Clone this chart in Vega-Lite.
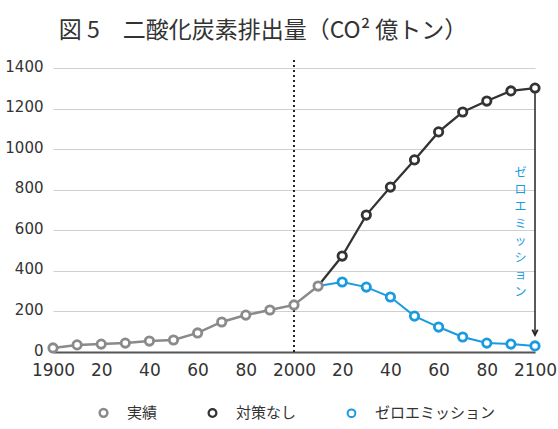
{
  "$schema": "https://vega.github.io/schema/vega-lite/v6.json",
  "width": 482,
  "height": 284,
  "autosize": {"type": "none"},
  "padding": {"left": 53, "top": 68, "right": 23, "bottom": 77},
  "background": "white",
  "title": {
    "text": "図 5　二酸化炭素排出量（CO² 億トン）",
    "font": "Noto Sans CJK JP",
    "fontSize": 23,
    "fontWeight": "normal",
    "color": "#333333",
    "offset": 16,
    "dx": -31
  },
  "config": {
    "view": {"stroke": null},
    "axis": {"labelFont": "DejaVu Sans", "labelColor": "#333333", "ticks": false}
  },
  "datasets": {
    "emissions": [
      {"series": "実績", "year": 1900, "value": 20},
      {"series": "実績", "year": 1910, "value": 35},
      {"series": "実績", "year": 1920, "value": 39},
      {"series": "実績", "year": 1930, "value": 44},
      {"series": "実績", "year": 1940, "value": 54},
      {"series": "実績", "year": 1950, "value": 59},
      {"series": "実績", "year": 1960, "value": 94},
      {"series": "実績", "year": 1970, "value": 148},
      {"series": "実績", "year": 1980, "value": 182},
      {"series": "実績", "year": 1990, "value": 207},
      {"series": "実績", "year": 2000, "value": 232},
      {"series": "実績", "year": 2010, "value": 325},
      {"series": "対策なし", "year": 2010, "value": 325},
      {"series": "対策なし", "year": 2020, "value": 473},
      {"series": "対策なし", "year": 2030, "value": 675},
      {"series": "対策なし", "year": 2040, "value": 813},
      {"series": "対策なし", "year": 2050, "value": 947},
      {"series": "対策なし", "year": 2060, "value": 1085},
      {"series": "対策なし", "year": 2070, "value": 1183},
      {"series": "対策なし", "year": 2080, "value": 1237},
      {"series": "対策なし", "year": 2090, "value": 1287},
      {"series": "対策なし", "year": 2100, "value": 1301},
      {"series": "ゼロエミッション", "year": 2010, "value": 325},
      {"series": "ゼロエミッション", "year": 2020, "value": 345},
      {"series": "ゼロエミッション", "year": 2030, "value": 320},
      {"series": "ゼロエミッション", "year": 2040, "value": 271},
      {"series": "ゼロエミッション", "year": 2050, "value": 177},
      {"series": "ゼロエミッション", "year": 2060, "value": 123},
      {"series": "ゼロエミッション", "year": 2070, "value": 74},
      {"series": "ゼロエミッション", "year": 2080, "value": 44},
      {"series": "ゼロエミッション", "year": 2090, "value": 39},
      {"series": "ゼロエミッション", "year": 2100, "value": 30}
    ],
    "marker2000": [{"year": 2000, "lo": 0, "hi": 1440}],
    "arrow": [{"year": 2100, "from": 1275, "to": 84}],
    "note": [{"year": 2094, "value": 880, "text": "ゼ\nロ\nエ\nミ\nッ\nシ\nョ\nン"}]
  },
  "layer": [
    {
      "data": {"name": "emissions"},
      "mark": {"type": "line"},
      "encoding": {
        "x": {
          "field": "year", "type": "quantitative",
          "scale": {"domain": [1900, 2100], "nice": false, "zero": false},
          "axis": {
            "title": null,
            "values": [1900, 1920, 1940, 1960, 1980, 2000, 2020, 2040, 2060, 2080, 2100],
            "labelExpr": "datum.value % 100 == 0 ? '' + datum.value : '' + (datum.value % 100)",
            "labelFontSize": 17,
            "labelPadding": 10,
            "labelFlush": false,
            "grid": false,
            "domainColor": "#555555",
            "domainWidth": 2
          }
        },
        "y": {
          "field": "value", "type": "quantitative",
          "scale": {"domain": [0, 1400], "nice": false},
          "axis": {
            "title": null,
            "values": [0, 200, 400, 600, 800, 1000, 1200, 1400],
            "format": "d",
            "labelFontSize": 15,
            "labelPadding": 10,
            "labelOffset": -2,
            "domain": false,
            "gridColor": "#cfcfcf",
            "gridWidth": 1
          }
        },
        "color": {
          "field": "series", "type": "nominal",
          "scale": {"domain": ["実績", "対策なし", "ゼロエミッション"], "range": ["#8a8a8a", "#333333", "#1a9be0"]},
          "legend": {
            "title": null,
            "orient": "none",
            "legendX": 43,
            "legendY": 337,
            "direction": "horizontal",
            "symbolType": "circle",
            "symbolSize": 60,
            "symbolStrokeWidth": 2,
            "symbolFillColor": "white",
            "labelFont": "Noto Sans CJK JP",
            "labelFontSize": 15,
            "labelColor": "#333333",
            "labelOffset": 16,
            "columnPadding": 46
          }
        },
        "strokeWidth": {
          "field": "series", "type": "nominal",
          "scale": {"domain": ["実績", "対策なし", "ゼロエミッション"], "range": [2.5, 2, 3.5]},
          "legend": null
        }
      }
    },
    {
      "data": {"name": "marker2000"},
      "mark": {"type": "rule", "color": "#222222", "strokeWidth": 2, "strokeDash": [2, 3]},
      "encoding": {
        "x": {"field": "year", "type": "quantitative"},
        "y": {"field": "lo", "type": "quantitative"},
        "y2": {"field": "hi"}
      }
    },
    {
      "data": {"name": "emissions"},
      "transform": [{"filter": "datum.series == '実績' || datum.year > 2010"}],
      "mark": {"type": "point", "shape": "circle", "filled": false, "fill": "white", "fillOpacity": 1, "size": 70, "strokeWidth": 2.8, "opacity": 1},
      "encoding": {
        "x": {"field": "year", "type": "quantitative"},
        "y": {"field": "value", "type": "quantitative"},
        "color": {"field": "series", "type": "nominal"}
      }
    },
    {
      "data": {"name": "arrow"},
      "mark": {"type": "rule", "color": "#222222", "strokeWidth": 1.5},
      "encoding": {
        "x": {"field": "year", "type": "quantitative"},
        "y": {"field": "from", "type": "quantitative"},
        "y2": {"field": "to"}
      }
    },
    {
      "data": {"name": "arrow"},
      "mark": {"type": "point", "shape": "M-0.7,-1.4L0,0L0.7,-1.4", "filled": false, "color": "#222222", "strokeWidth": 1.8, "size": 60, "opacity": 1},
      "encoding": {
        "x": {"field": "year", "type": "quantitative"},
        "y": {"field": "to", "type": "quantitative"}
      }
    },
    {
      "data": {"name": "note"},
      "mark": {"type": "text", "font": "Noto Sans CJK JP", "fontSize": 12, "lineHeight": 17, "lineBreak": "\n", "color": "#1a9be0", "align": "center", "baseline": "middle"},
      "encoding": {
        "x": {"field": "year", "type": "quantitative"},
        "y": {"field": "value", "type": "quantitative"},
        "text": {"field": "text"}
      }
    }
  ]
}
